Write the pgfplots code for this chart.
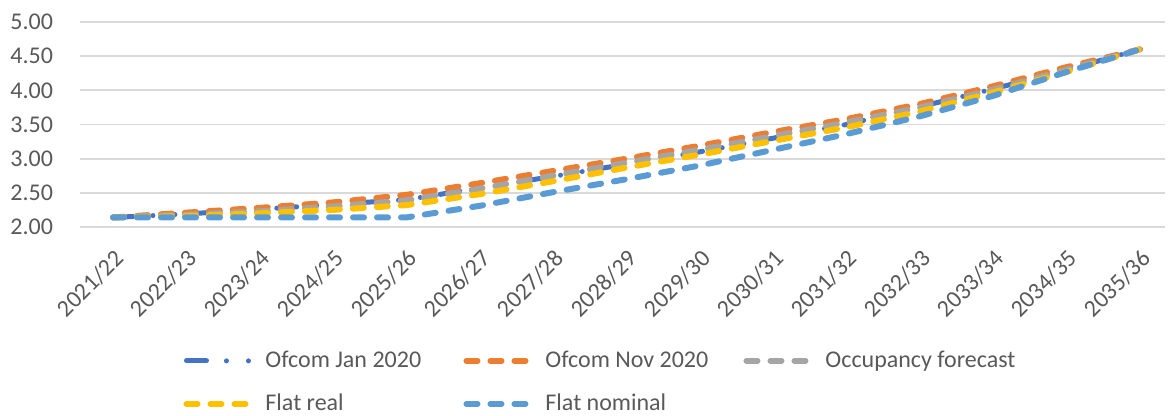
\documentclass[border=0pt]{standalone}
\usepackage{fontspec}
\setmainfont{Carlito}
\usepackage{pgfplots}
\pgfplotsset{compat=1.18}
\definecolor{cJan}{HTML}{4472C4}
\definecolor{cNov}{HTML}{ED7D31}
\definecolor{cOcc}{HTML}{A5A5A5}
\definecolor{cReal}{HTML}{FFC000}
\definecolor{cNom}{HTML}{5B9BD5}
\definecolor{txt}{HTML}{595959}
\definecolor{gridc}{HTML}{D9D9D9}
\begin{document}
\begin{tikzpicture}[x=1pt,y=1pt]
\path[use as bounding box] (0,0) rectangle (584.5,208);
\begin{axis}[
  at={(40pt,94.5pt)}, anchor=south west,
  scale only axis, width=542.5pt, height=102.5pt,
  xmin=-0.45, xmax=14.34, ymin=2, ymax=5,
  ytick={2,2.5,3,3.5,4,4.5,5},
  /pgf/number format/assume math mode=true,
  yticklabel style={/pgf/number format/fixed, /pgf/number format/fixed zerofill, /pgf/number format/precision=2, xshift=-10pt},
  xtick={0,...,14},
  xticklabels={2021/22,2022/23,2023/24,2024/25,2025/26,2026/27,2027/28,2028/29,2029/30,2030/31,2031/32,2032/33,2033/34,2034/35,2035/36},
  xticklabel style={yshift=-10.5pt, rotate=45, anchor=north east, inner sep=0pt},
  tick label style={font=\fontsize{12}{14}\selectfont, text=txt},
  axis line style={draw=none},
  major tick length=0pt,
  ymajorgrids, grid style={draw=gridc, line width=0.9pt},
  clip=false,
  every axis plot/.append style={line width=3pt, line cap=round},
  legend image code/.code={\draw[#1] (0pt,0pt) -- (35pt,0pt);},
  legend columns=3,
  legend style={at={(axis description cs:0.095,-0.595)}, anchor=north west, draw=none, fill=none,
    font=\fontsize{12}{14}\selectfont, text=txt, inner sep=0pt,
    nodes={inner sep=0pt, text height=9pt, text depth=2.5pt},
    row sep=10pt,
    /tikz/every odd column/.append style={column sep=3pt}},
  legend cell align=left,
]
\addplot[cJan, line width=2.5pt, dash pattern=on 10pt off 10pt on 0pt off 11pt on 0pt off 10pt] coordinates {
(0,2.14)(1,2.19)(2,2.26)(3,2.33)(4,2.40)(5,2.57)(6,2.74)(7,2.92)(8,3.10)(9,3.30)(10,3.50)(11,3.76)(12,4.02)(13,4.30)(14,4.60)};
\addlegendentry{\makebox[99pt][l]{Ofcom Jan 2020}}
\addplot[cNov, dash pattern=on 5.5pt off 6.5pt] coordinates {
(0,2.14)(1,2.21)(2,2.28)(3,2.36)(4,2.47)(5,2.64)(6,2.82)(7,3.00)(8,3.19)(9,3.39)(10,3.58)(11,3.80)(12,4.06)(13,4.34)(14,4.60)};
\addlegendentry{\makebox[99pt][l]{Ofcom Nov 2020}}
\addplot[cOcc, dash pattern=on 5.5pt off 6.5pt] coordinates {
(0,2.14)(1,2.18)(2,2.23)(3,2.30)(4,2.39)(5,2.56)(6,2.75)(7,2.94)(8,3.13)(9,3.33)(10,3.53)(11,3.75)(12,4.01)(13,4.30)(14,4.60)};
\addlegendentry{\makebox[99pt][l]{Occupancy forecast}}
\addplot[cReal, dash pattern=on 5.5pt off 6.5pt] coordinates {
(0,2.14)(1,2.16)(2,2.20)(3,2.25)(4,2.32)(5,2.48)(6,2.67)(7,2.87)(8,3.06)(9,3.26)(10,3.46)(11,3.69)(12,3.97)(13,4.27)(14,4.60)};
\addlegendentry{\makebox[99pt][l]{Flat real}}
\addplot[cNom, dash pattern=on 5.5pt off 6.5pt] coordinates {
(0,2.14)(1,2.14)(2,2.14)(3,2.14)(4,2.14)(5,2.31)(6,2.51)(7,2.70)(8,2.90)(9,3.13)(10,3.36)(11,3.62)(12,3.92)(13,4.27)(14,4.60)};
\addlegendentry{\makebox[99pt][l]{Flat nominal}}
\end{axis}
\end{tikzpicture}
\end{document}
